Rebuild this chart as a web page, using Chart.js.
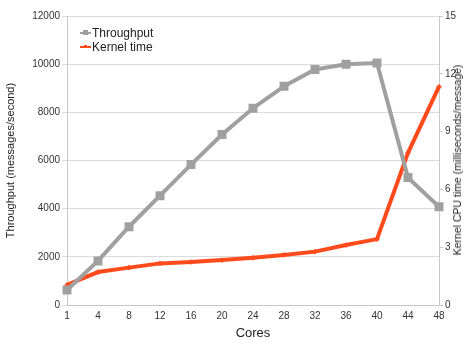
<!DOCTYPE html>
<html>
<head>
<meta charset="utf-8">
<script src="https://cdn.jsdelivr.net/npm/chart.js"></script>
<style>
  body { margin: 0; background: #fff; }
  #wrap { position: relative; width: 465px; height: 345px; overflow: hidden; }
  #legend { position: absolute; left: 80px; top: 26px; font: 12px "Liberation Sans", Arial, sans-serif; color: #222; line-height: 14px; }
  #legend .row { display: flex; align-items: center; }
  #legend .sw { position: relative; width: 11px; height: 10px; margin-right: 1px; }
  #legend .sw i { position: absolute; left: 0; top: 4px; width: 11px; height: 2px; }
  #legend .sw b { position: absolute; left: 3px; top: 2px; width: 5px; height: 5px; }
  #rtitle { position: absolute; left: 457px; top: 160px; transform: translate(-50%, -50%) rotate(-90deg); white-space: nowrap; font: 10.5px "Liberation Sans", Arial, sans-serif; color: #222; }
</style>
</head>
<body>
<div id="wrap">
  <canvas id="c" width="465" height="345"></canvas>
  <div id="legend">
    <div class="row"><span class="sw"><i style="background:#a0a0a0"></i><b style="background:#a0a0a0"></b></span>Throughput</div>
    <div class="row"><span class="sw"><i style="background:#ff4a1c"></i><b style="background:#ff4a1c;width:3px;height:3px;left:4px;top:3px"></b></span>Kernel time</div>
  </div>
  <div id="rtitle">Kernel CPU time (milliseconds/message)</div>
</div>
<script>
const cores = ["1", "4", "8", "12", "16", "20", "24", "28", "32", "36", "40", "44", "48"];
const throughput = [620, 1830, 3250, 4540, 5830, 7080, 8170, 9080, 9780, 10000, 10050, 5290, 4080];
const kernelTime = [1.04, 1.71, 1.94, 2.16, 2.23, 2.33, 2.45, 2.6, 2.77, 3.11, 3.42, 7.9, 11.33];

const font = { family: "'Liberation Sans', Arial, sans-serif", size: 10 };

new Chart(document.getElementById("c"), {
    type: "line",
    data: {
        labels: cores,
        datasets: [{
            label: "Throughput",
            data: throughput,
            yAxisID: "y",
            borderColor: "#a0a0a0",
            backgroundColor: "#a0a0a0",
            borderWidth: 4,
            pointStyle: "rect",
            pointRadius: 3.5,
            pointHoverRadius: 3.5,
            tension: 0
        }, {
            label: "Kernel time",
            data: kernelTime,
            yAxisID: "y1",
            borderColor: "#ff4a1c",
            backgroundColor: "#ff4a1c",
            borderWidth: 4,
            pointStyle: "crossRot",
            pointRadius: 2,
            tension: 0
        }]
    },
    options: {
        responsive: false,
        animation: false,
        layout: { padding: { top: 16, left: 0, right: 0, bottom: 0 } },
        plugins: { legend: { display: false }, tooltip: { enabled: false } },
        scales: {
            x: {
                grid: { display: false, drawTicks: true, tickLength: 4 },
                border: { color: "#c8c8c8" },
                ticks: { color: "#333", font, maxRotation: 0, padding: 1 },
                title: { display: true, text: "Cores", color: "#222", font: { family: font.family, size: 13 }, padding: { top: 8 } },
                afterFit: s => { s.height = 40; }
            },
            y: {
                position: "left",
                min: 0, max: 12000,
                ticks: { stepSize: 2000, color: "#333", font, padding: 2, callback: v => String(v) },
                grid: { color: "#dcdcdc", tickLength: 5 },
                border: { color: "#c8c8c8" },
                title: { display: true, text: "Throughput (messages/second)", color: "#222", font: { family: font.family, size: 11 } },
                afterFit: s => { s.width = 67; }
            },
            y1: {
                position: "right",
                min: 0, max: 15,
                ticks: { stepSize: 3, color: "#333", font, padding: 2 },
                grid: { drawOnChartArea: false, color: "#c8c8c8", tickLength: 4 },
                border: { color: "#c8c8c8" },
                afterFit: s => { s.width = 26; }
            }
        }
    }
});
</script>
</body>
</html>
